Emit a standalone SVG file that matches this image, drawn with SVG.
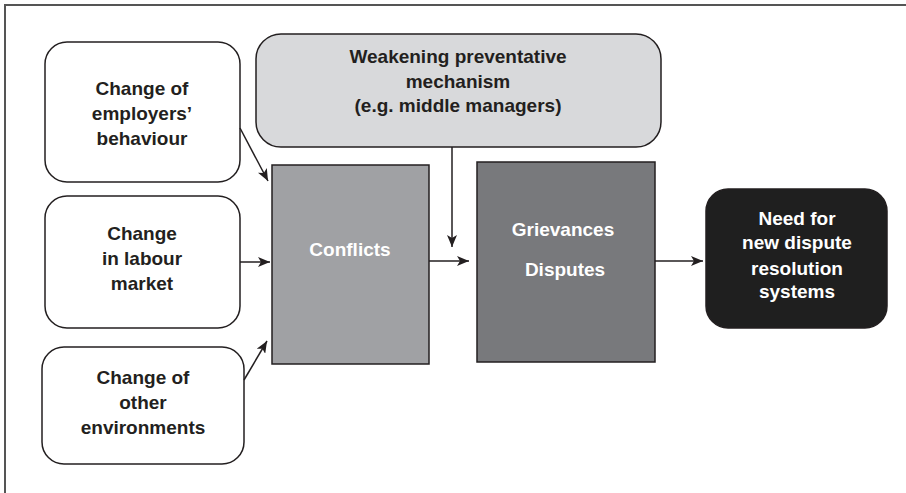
<svg xmlns="http://www.w3.org/2000/svg" width="906" height="493" viewBox="0 0 906 493">
<defs>
<marker id="ah" markerWidth="12" markerHeight="10" refX="12" refY="5" orient="auto" markerUnits="userSpaceOnUse">
<path d="M0,0 L12,5 L0,10 L3,5 z" fill="#231f20"/>
</marker>
<style>
.t{font-family:"Liberation Sans",Arial,sans-serif;font-weight:bold;font-size:19px;text-anchor:middle}
.dk{fill:#231f20}
.wt{fill:#ffffff}
.bx{stroke:#231f20;stroke-width:1.5}
.cn{stroke:#231f20;stroke-width:1.5;fill:none;marker-end:url(#ah)}
</style>
</defs>
<rect width="906" height="493" fill="#ffffff"/>
<path d="M5,493 V5 H906" fill="none" stroke="#555555" stroke-width="2"/>
<g id="employers">
<rect class="bx" x="45" y="42" width="195" height="140" rx="22" fill="#ffffff"/>
<text class="t dk" x="142" y="95">Change of</text>
<text class="t dk" x="142" y="120">employers’</text>
<text class="t dk" x="142" y="145">behaviour</text>
</g>
<g id="labour">
<rect class="bx" x="45" y="196" width="195" height="132" rx="22" fill="#ffffff"/>
<text class="t dk" x="142" y="240">Change</text>
<text class="t dk" x="142" y="265">in labour</text>
<text class="t dk" x="142" y="290">market</text>
</g>
<g id="other">
<rect class="bx" x="42" y="347" width="202" height="117" rx="22" fill="#ffffff"/>
<text class="t dk" x="143" y="384">Change of</text>
<text class="t dk" x="143" y="409">other</text>
<text class="t dk" x="143" y="434">environments</text>
</g>
<g id="weakening">
<rect class="bx" x="256" y="34" width="405" height="113" rx="25" fill="#d8d9db"/>
<text class="t dk" x="458" y="63">Weakening preventative</text>
<text class="t dk" x="458" y="88">mechanism</text>
<text class="t dk" x="458" y="112">(e.g. middle managers)</text>
</g>
<g id="conflicts">
<rect class="bx" x="272" y="165" width="157" height="199" fill="#a0a1a4"/>
<text class="t wt" x="350" y="256">Conflicts</text>
</g>
<g id="grievances">
<rect class="bx" x="477" y="162" width="178" height="200" fill="#78797c"/>
<text class="t wt" x="563" y="236">Grievances</text>
<text class="t wt" x="565" y="276">Disputes</text>
</g>
<g id="need">
<rect class="bx" x="706" y="189" width="181" height="139" rx="22" fill="#1f1f1f"/>
<text class="t wt" x="797" y="225">Need for</text>
<text class="t wt" x="797" y="249">new dispute</text>
<text class="t wt" x="797" y="275">resolution</text>
<text class="t wt" x="797" y="298">systems</text>
</g>
<g id="connectors">
<line class="cn" x1="240" y1="128" x2="268" y2="181"/>
<line class="cn" x1="240" y1="262" x2="270" y2="262"/>
<line class="cn" x1="244" y1="380" x2="267" y2="341"/>
<line class="cn" x1="452" y1="147" x2="452" y2="247"/>
<line class="cn" x1="429" y1="261" x2="469" y2="261"/>
<line class="cn" x1="655" y1="261" x2="703" y2="261"/>
</g>
</svg>
